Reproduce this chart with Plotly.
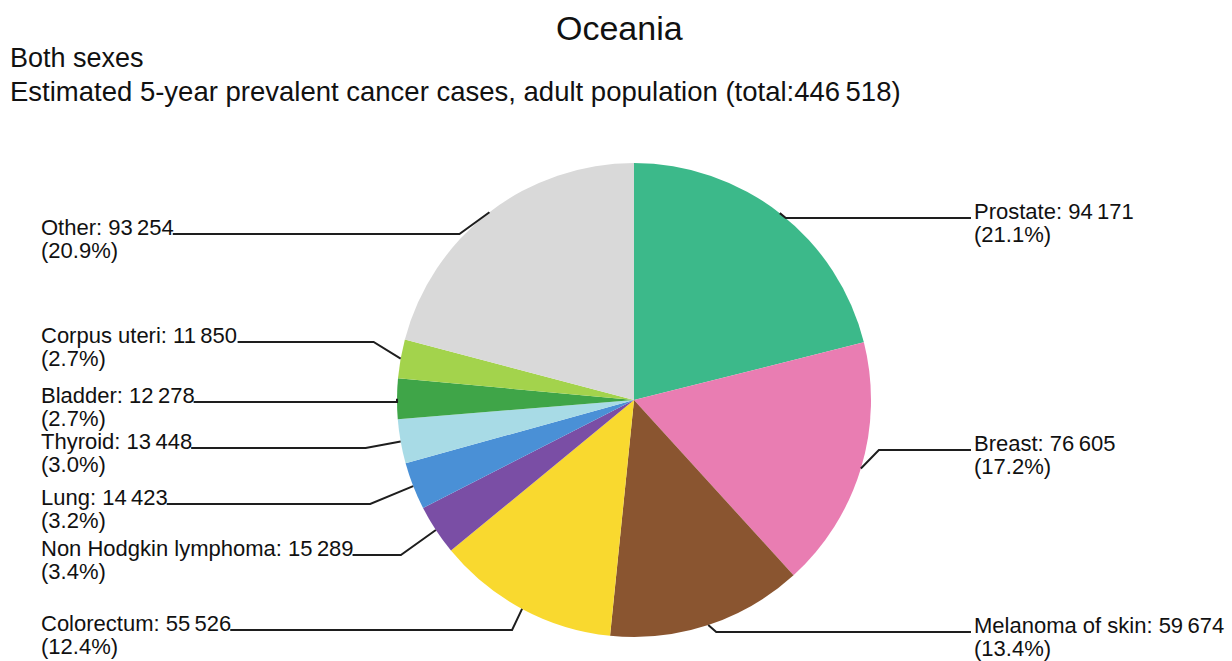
import math
import plotly.graph_objects as go

# ---------------- data ----------------
categories = ["Prostate", "Breast", "Melanoma of skin", "Colorectum",
              "Non Hodgkin lymphoma", "Lung", "Thyroid", "Bladder",
              "Corpus uteri", "Other"]
cases = [94171, 76605, 59674, 55526, 15289, 14423, 13448, 12278, 11850, 93254]
total_cases = 446518
colors = ["#3cb98a", "#e97db2", "#8a5530", "#f9d92f", "#7a4ea5",
          "#4a90d6", "#a8dbe6", "#3fa548", "#a3d34c", "#d9d9d9"]

title_text = "Oceania"
subtitle1 = "Both sexes"
subtitle2 = "Estimated 5-year prevalent cancer cases, adult population (total:{})"

# ---------------- layout constants (pixels) ----------------
W, H = 1232, 661
CX, CY, R = 634, 400, 237
label_side = ["R", "R", "R", "L", "L", "L", "L", "L", "L", "L"]
label_line_y = [218, 450, 632, 630, 555, 504, 448, 402, 342, 234]
elbow_dx = [6, 18, 8, 10, 35, 43, 35, 0, 27, 30]
LEFT_X = 39
RIGHT_X = 972
FONT = "Liberation Sans, Arial, sans-serif"
LFS = 22

def px(x):
    return x / W

def py(y):
    return 1 - y / H

def fmt(v):
    return f"{v:,}".replace(",", "\u2009")

# approximate Arial/Liberation Sans advance widths (em)
CW = {' ': .278, '\u2009': .2, ':': .278, '.': .278, '(': .333, ')': .333, '%': .889,
      'A': .667, 'B': .667, 'C': .722, 'H': .722, 'L': .556, 'M': .833, 'N': .722,
      'O': .778, 'P': .667, 'T': .611,
      'a': .556, 'b': .556, 'c': .5, 'd': .556, 'e': .556, 'f': .278, 'g': .556,
      'h': .556, 'i': .222, 'k': .5, 'l': .222, 'm': .833, 'n': .556, 'o': .556,
      'p': .556, 'r': .333, 's': .5, 't': .278, 'u': .556, 'y': .5}

def text_w(s, size):
    return sum(CW.get(ch, .556) for ch in s) * size

fig = go.Figure()
fig.add_trace(go.Pie(
    labels=categories, values=cases, sort=False, direction="clockwise",
    rotation=0, textinfo="none", hoverinfo="label+value+percent",
    marker=dict(colors=colors, line=dict(width=0)),
    domain=dict(x=[px(CX - R), px(CX + R)], y=[py(CY + R), py(CY - R)]),
    showlegend=False,
))

total = sum(cases)
annotations = []
shapes = []
cum = 0
for i, (name, v) in enumerate(zip(categories, cases)):
    mid = (cum + v / 2) / total
    cum += v
    ang = 2 * math.pi * mid
    ax = CX + R * math.sin(ang)
    ay = CY - R * math.cos(ang)
    ly = label_line_y[i]
    line1 = f"{name}: {fmt(v)}"
    line2 = f"({100 * v / total:.1f}%)"
    if label_side[i] == "R":
        ex = ax + elbow_dx[i]
        tx = RIGHT_X
        end_x = RIGHT_X - 1
    else:
        ex = ax - elbow_dx[i]
        tx = LEFT_X
        end_x = LEFT_X + text_w(line1, LFS) + 1
    path = f"M {px(ax)},{py(ay)} L {px(ex)},{py(ly)} L {px(end_x)},{py(ly)}"
    shapes.append(dict(type="path", xref="paper", yref="paper", path=path,
                       line=dict(color="#1e1e1e", width=2)))
    base1 = ly + 1
    base2 = ly + 24
    for txt, b in ((line1, base1), (line2, base2)):
        annotations.append(dict(
            x=px(tx), y=py(b - 0.35 * LFS), xref="paper", yref="paper",
            xanchor="left", yanchor="middle", showarrow=False, text=txt,
            font=dict(family=FONT, size=LFS, color="#111111")))

# titles
annotations.append(dict(x=px(619), y=py(40 - 0.35 * 34), xref="paper", yref="paper",
                        xanchor="center", yanchor="middle", showarrow=False,
                        text=title_text, font=dict(family=FONT, size=34, color="#111111")))
annotations.append(dict(x=px(8), y=py(67 - 0.35 * 27), xref="paper", yref="paper",
                        xanchor="left", yanchor="middle", showarrow=False,
                        text=subtitle1, font=dict(family=FONT, size=27, color="#111111")))
annotations.append(dict(x=px(8), y=py(101 - 0.35 * 27.5), xref="paper", yref="paper",
                        xanchor="left", yanchor="middle", showarrow=False,
                        text=subtitle2.format(fmt(total_cases)),
                        font=dict(family=FONT, size=27.5, color="#111111")))

fig.update_layout(
    width=W, height=H, margin=dict(l=0, r=0, t=0, b=0),
    paper_bgcolor="white", plot_bgcolor="white",
    annotations=annotations, shapes=shapes,
)
fig.write_html("out.html", config={"displayModeBar": False},
               post_script="document.body.style.margin='0';document.body.style.overflow='hidden';")
